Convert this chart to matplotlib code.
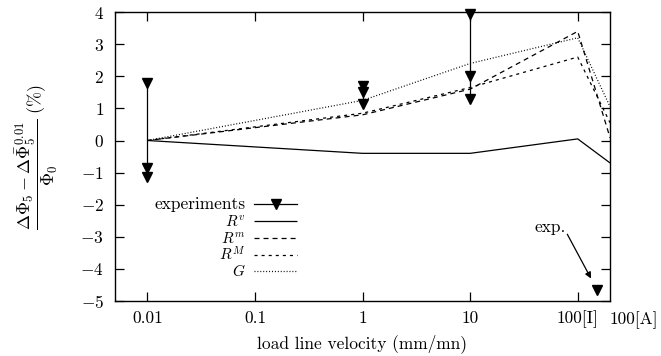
import matplotlib
matplotlib.use('Agg')
import matplotlib.pyplot as plt
from matplotlib.lines import Line2D

plt.rcParams['font.family'] = 'serif'
plt.rcParams['font.serif'] = ['cmr10']
plt.rcParams['mathtext.fontset'] = 'cm'
plt.rcParams['axes.formatter.use_mathtext'] = True
plt.rcParams['lines.scale_dashes'] = False

# model curves (x = load line velocity, 200 stands for "100[A]")
vel = [0.01, 1, 10, 100, 200]
r_v = [0.0, -0.4, -0.4, 0.05, -0.7]
r_m = [0.0, 0.8, 1.6, 3.4, 0.08]
r_M = [0.0, 0.85, 1.65, 2.6, 0.55]
g_model = [0.0, 1.25, 2.4, 3.2, 1.05]

# experiments, one group per velocity
exp_vel = [0.01, 1, 10, 150]
exp_vals = [[1.8, -0.85, -1.15],
            [1.7, 1.5, 1.15],
            [3.95, 2.0, 1.3],
            [-4.65]]

xticks = [0.01, 0.1, 1, 10, 100]
xticklabels = ['0.01', '0.1', '1', '10', '100[I]']
yticks = [-5, -4, -3, -2, -1, 0, 1, 2, 3, 4]

styles = {
    'Rv': (0, ()),
    'Rm': (0, (3.6, 2.9)),
    'RM': (0, (2.2, 2.9)),
    'G': (0, (0.7, 1.4)),
}

fig = plt.figure(figsize=(6.61, 3.56), dpi=100)
ax = fig.add_axes([0.174, 0.1545, 0.749, 0.8115])

ax.plot(vel, r_v, color='k', lw=0.9, linestyle=styles['Rv'])
ax.plot(vel, r_m, color='k', lw=0.9, linestyle=styles['Rm'])
ax.plot(vel, r_M, color='k', lw=0.9, linestyle=styles['RM'])
ax.plot(vel, g_model, color='k', lw=0.9, linestyle=styles['G'])

for v, vals in zip(exp_vel, exp_vals):
    ax.plot([v] * len(vals), vals, color='k', lw=0.9, marker='v',
            markersize=7, clip_on=False)

ax.set_xscale('log')
ax.set_xlim(0.005, 200)
ax.set_ylim(-5, 4)
ax.set_xticks(xticks)
ax.set_xticklabels(xticklabels)
ax.minorticks_off()
ax.set_yticks(yticks)
ax.set_yticklabels(['$%d$' % t for t in yticks])
ax.tick_params(direction='in', length=6.5, width=0.9, top=True, right=True,
               labelsize=12.5)
ax.tick_params(axis='x', pad=7)
ax.tick_params(axis='y', pad=8)
for s in ax.spines.values():
    s.set_linewidth(1.0)

# the "100[A]" label sits just outside the right end of the axis
ax.text(330, -5.33, '100[A]', fontsize=12.5, ha='center', va='top',
        clip_on=False)

ax.set_xlabel('load line velocity (mm/mn)', fontsize=12.5, labelpad=4)
ax.set_ylabel(r'$\dfrac{\Delta\Phi_5-\Delta\bar{\Phi}_5^{0.01}}{\Phi_0}\ (\%)$',
              fontsize=13, labelpad=15)

# arrow pointing at the [A] experiment
ax.text(55, -2.7, 'exp.', fontsize=12.5, ha='center', va='center')
ax.annotate('', xy=(133, -4.3), xytext=(80, -2.92),
            arrowprops=dict(arrowstyle='-|>', color='k', lw=0.9,
                            mutation_scale=9, shrinkA=0, shrinkB=0))

# gnuplot-style key: label on the left, sample on the right
key = [('experiments', '-', 'v'), (r'$R^v$', styles['Rv'], None),
       (r'$R^m$', styles['Rm'], None), (r'$R^M$', styles['RM'], None),
       (r'$G$', styles['G'], None)]
key_y = [0.335, 0.277, 0.219, 0.159, 0.103]
for (lab, ls, mk), ky in zip(key, key_y):
    fs = 12.5 if mk else 11
    ax.text(0.263, ky - 0.018, lab, fontsize=fs, ha='right', va='baseline',
            transform=ax.transAxes)
    ax.add_line(Line2D([0.281, 0.368], [ky, ky], color='k', lw=0.9,
                       linestyle=ls, transform=ax.transAxes))
    if mk:
        ax.add_line(Line2D([0.3245], [ky], color='k', marker=mk,
                           markersize=7, transform=ax.transAxes))

fig.savefig('out.png', dpi=100)
